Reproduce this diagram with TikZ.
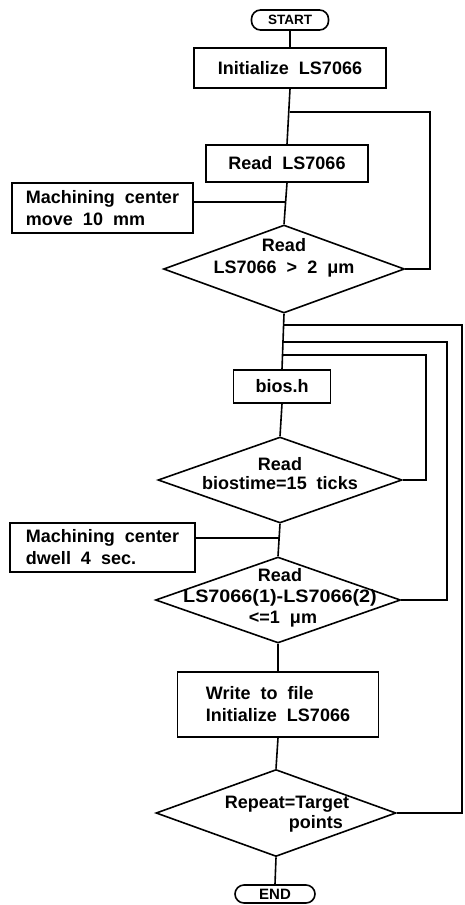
\documentclass[tikz,border=0pt]{standalone}
\usepackage{fontspec}
\setmainfont{Liberation Sans}[WordSpace=2]
\usepackage{graphicx}
\usetikzlibrary{shapes.geometric}
\tikzset{
  box/.style={draw, line width=1.6pt, rectangle, inner sep=0pt, align=left,
    font=\fontsize{18}{22}\selectfont\bfseries},
  term/.style={draw, line width=1.6pt, rounded corners=9pt, inner sep=0pt,
    font=\fontsize{13.5}{15}\selectfont\bfseries},
  dia/.style={draw, line width=1.6pt, diamond, inner sep=0pt, shape aspect=1},
  txt/.style={inner sep=0pt, align=center, font=\fontsize{18}{22}\selectfont\bfseries},
  link/.style={line width=1.6pt}
}
\begin{document}
\begin{tikzpicture}[x=1pt,y=-1pt]
\useasboundingbox (0,0) rectangle (465,905);

% terminals and boxes
\node[term, minimum width=77pt, minimum height=20pt] (start) at (290,20) {START};
\node[box, minimum width=192pt, minimum height=40pt] (init) at (290,68) {Initialize LS7066};
\node[box, minimum width=162pt, minimum height=37pt] (read) at (287,163.5) {Read LS7066};
\node[box, minimum width=181pt, minimum height=50pt] (mc1) at (102.5,208) {Machining center\\move 10 mm};
\node[dia, minimum width=241pt, minimum height=88pt] (d1) at (284,269) {};
\node[txt] (d1t) at (284,258) {Read\\LS7066 > 2 μm};

\node[box, minimum width=97pt, minimum height=33pt] (bios) at (282,386.5) {bios.h};
\node[dia, minimum width=244pt, minimum height=86pt] (d2) at (280,480) {};
\node[txt, font=\fontsize{18}{19}\selectfont\bfseries] (d2t) at (280,474) {Read\\biostime=15 ticks};

\node[box, minimum width=185pt, minimum height=49pt] (mc2) at (102.5,547.5) {Machining center\\dwell 4 sec.};
\node[dia, minimum width=245pt, minimum height=86pt] (d3) at (278,600) {};
\node[txt, font=\fontsize{18}{21}\selectfont\bfseries] (d3t) at (280,598) {Read\\\scalebox{1.1}[1]{LS7066(1)-LS7066(2)}\\\hspace*{6pt}<=1 μm};

\node[box, minimum width=201pt, minimum height=65pt] (write) at (278,704.5) {Write to file\\Initialize LS7066};
\node[dia, minimum width=240pt, minimum height=87pt] (d4) at (276,813) {};
\node[txt, align=left, font=\fontsize{18}{20}\selectfont\bfseries] (d4t) at (287,814) {Repeat=Target\\\hspace*{64pt}points};
\node[term, font=\fontsize{15}{16}\selectfont\bfseries, minimum width=80pt, minimum height=18pt] (end) at (275,894) {END};

% junction points on the main line
\coordinate (j1) at (289.5,112);
\coordinate (j2) at (285.5,202);
\coordinate (j3) at (283.5,325);
\coordinate (j4) at (283,342);
\coordinate (j5) at (282.5,355);
\coordinate (j6) at (279,538);

% main flow
\draw[link] (start.south) -- (init.north);
\draw[link] (init.south) -- (read.north);
\draw[link] (read.south) -- (d1.north);
\draw[link] (d1.south) -- (bios.north);
\draw[link] (bios.south) -- (d2.north);
\draw[link] (d2.south) -- (d3.north);
\draw[link] (d3.south) -- (write.north);
\draw[link] (write.south) -- (d4.north);
\draw[link] (d4.south) -- (end.north);

% side inputs
\draw[link] (mc1.east |- j2) -- (j2);
\draw[link] (mc2.east |- j6) -- (j6);

% loops back
\draw[link] (d1.east) -| (430,112) -- (j1);
\draw[link] (d2.east) -| (426,355) -- (j5);
\draw[link] (d3.east) -| (447,342) -- (j4);
\draw[link] (d4.east) -| (462,325) -- (j3);
\end{tikzpicture}
\end{document}
